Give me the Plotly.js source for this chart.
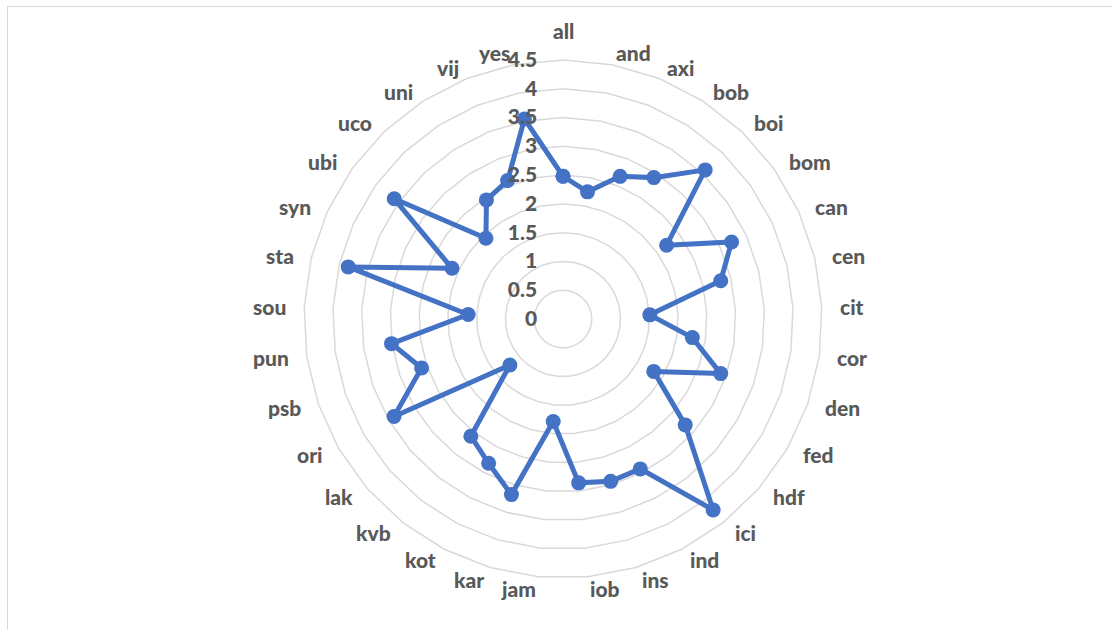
<!DOCTYPE html>
<html>
<head>
<meta charset="utf-8">
<script src="https://cdn.plot.ly/plotly-3.0.1.min.js"></script>
<style>
  html, body { margin: 0; padding: 0; background: #ffffff; }
  #wrap { position: relative; width: 1112px; height: 630px; overflow: hidden; }
  #frame { position: absolute; left: 7px; top: 6px; width: 1120px; height: 640px; border-top: 1.5px solid #d9d9d9; border-left: 1.5px solid #d9d9d9; }
  #chart { position: absolute; left: 0; top: 0; width: 1112px; height: 630px; }
</style>
</head>
<body>
<div id="wrap">
  <div id="frame"></div>
  <div id="chart"></div>
</div>
<script>
const categories = ["all","and","axi","bob","boi","bom","can","cen","cit","cor","den","fed","hdf","ici","ind","ins","iob","jam","kar","kot","kvb","lak","ori","psb","pun","sou","sta","syn","ubi","uco","uni","vij","yes"];
const values = [2.48,2.25,2.67,2.92,3.58,2.21,3.22,2.82,1.51,2.27,2.90,1.82,2.81,4.22,2.93,2.94,2.86,1.79,3.18,2.82,2.59,1.22,3.39,2.60,3.01,1.65,3.84,2.12,3.60,1.94,2.46,2.59,3.54];
const radialTicks = [0,0.5,1,1.5,2,2.5,3,3.5,4,4.5];
const radialTickText = ["0","0.5","1","1.5","2","2.5","3","3.5","4","4.5"];

const W = 1112, H = 630;
const cx = 563, cy = 319, R = 259;
const gapX = 17, gapY = 12, gapTop = 16;

const thetaClosed = categories.concat([categories[0]]);
const rClosed = values.concat([values[0]]);

const trace = {
  type: 'scatterpolar',
  r: rClosed,
  theta: thetaClosed,
  mode: 'lines+markers',
  line: { color: '#4472C4', width: 5 },
  marker: { color: '#4472C4', size: 15 },
  hoverinfo: 'none',
  showlegend: false
};

const fontFam = 'Lato';
const tickFont = { family: fontFam, size: 21, color: '#595959', weight: 900 };

// Category labels placed around the outer ring, Excel-style (edge-anchored, vertically centred)
const N = categories.length;
const annotations = categories.map((c, i) => {
  const a = i * 2 * Math.PI / N;
  const s = Math.sin(a), co = Math.cos(a);
  let xanchor = 'center', yanchor = 'middle';
  let px, py;
  if (Math.abs(s) < 1e-6) {
    yanchor = co > 0 ? 'bottom' : 'top';
    px = cx; py = cy - (R + gapTop) * co;
  } else {
    xanchor = s > 0 ? 'left' : 'right';
    px = cx + (R + gapX) * s;
    py = cy - (R + gapY) * co;
  }
  return {
    text: c, xref: 'paper', yref: 'paper',
    x: px / W, y: (H - py) / H,
    xanchor: xanchor, yanchor: yanchor,
    showarrow: false, borderpad: 0,
    font: tickFont
  };
});

const layout = {
  width: W, height: H,
  margin: { l: 0, r: 0, t: 0, b: 0 },
  paper_bgcolor: 'rgba(0,0,0,0)',
  plot_bgcolor: 'rgba(0,0,0,0)',
  showlegend: false,
  annotations: annotations,
  polar: {
    domain: { x: [(cx - R) / W, (cx + R) / W], y: [(H - cy - R) / H, (H - cy + R) / H] },
    bgcolor: 'rgba(0,0,0,0)',
    gridshape: 'linear',
    radialaxis: {
      range: [0, 4.5],
      tickvals: radialTicks,
      ticktext: radialTickText,
      angle: 90,
      tickangle: 90,
      side: 'counterclockwise',
      showline: false,
      ticks: 'outside',
      ticklen: 18,
      tickcolor: 'rgba(0,0,0,0)',
      gridcolor: '#d9d9d9',
      gridwidth: 1.5,
      tickfont: tickFont
    },
    angularaxis: {
      direction: 'clockwise',
      rotation: 90,
      categoryorder: 'array',
      categoryarray: categories,
      showgrid: false,
      showline: true,
      linecolor: '#d9d9d9',
      linewidth: 1.5,
      ticks: '',
      showticklabels: false
    }
  }
};

Plotly.newPlot('chart', [trace], layout, { displayModeBar: false, staticPlot: true });
</script>
</body>
</html>
